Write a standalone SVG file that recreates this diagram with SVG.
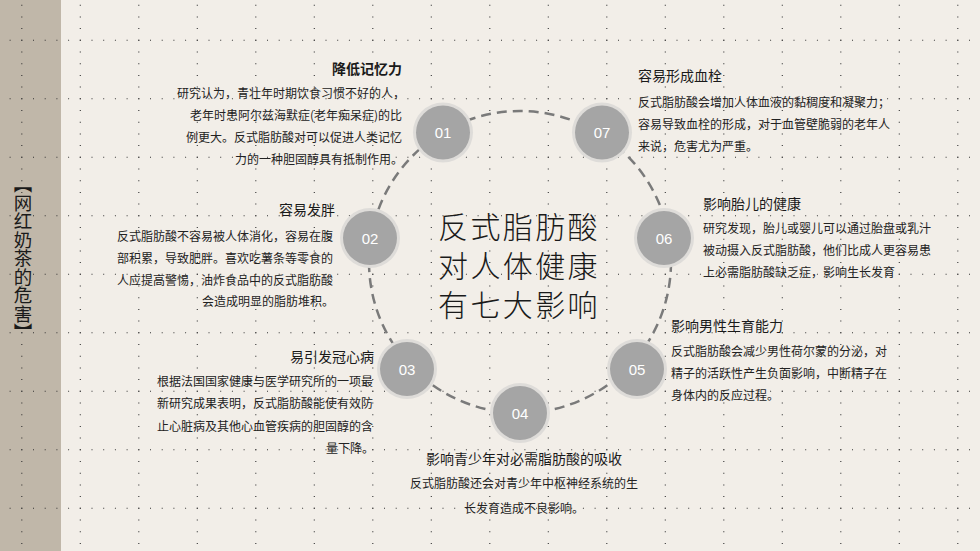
<svg xmlns="http://www.w3.org/2000/svg" width="980" height="551" viewBox="0 0 980 551">
<style>
.dots{fill:none;stroke:#333;stroke-width:1.1;stroke-dasharray:1 10.7}
.t{font-family:"Noto Sans CJK SC","Liberation Sans",sans-serif;fill:#1a1a1a}
.ti{font-size:14px}
.b{font-size:12px;fill:#222}
.num{font-family:"Liberation Sans","Noto Sans",sans-serif;font-size:15px;fill:#fff;text-anchor:middle}
.ring{fill:#dedcd9}
.core{fill:#a5a5a5}
</style>
<rect x="0" y="0" width="980" height="551" fill="#f2eee8"/>
<rect x="0" y="0" width="61" height="551" fill="#c0b7a9"/>
<g id="grid">
<path class="dots" d="M9.6 40.3H980M9.6 98.8H980M9.6 157.3H980M9.6 215.8H980M9.6 274.3H980M9.6 332.8H980M9.6 391.3H980M9.6 449.8H980M9.6 508.3H980"/>
<path class="dots" d="M21.8 4.7V551M80.3 4.7V551M138.8 4.7V551M197.3 4.7V551M255.8 4.7V551M314.3 4.7V551M372.8 4.7V551M431.3 4.7V551M489.8 4.7V551M548.3 4.7V551M606.8 4.7V551M665.3 4.7V551M723.8 4.7V551M782.3 4.7V551M840.8 4.7V551M899.3 4.7V551M957.8 4.7V551"/>
</g>
<g id="sidebar-title">
<text class="t" x="23" y="258" font-size="18.5" style="writing-mode:vertical-rl" text-anchor="middle" fill="#111">【网红奶茶的危害】</text>
</g>
<g id="connectors">
<circle cx="520" cy="262" r="151" fill="none" stroke="#7a7a7a" stroke-width="2.5" stroke-dasharray="10 6"/>
</g>
<g id="center-title">
<text class="t" font-size="30" font-weight="300" fill="#2a2a2a" letter-spacing="2.4"><tspan x="438" y="238">反式脂肪酸</tspan><tspan x="438" y="277">对人体健康</tspan><tspan x="438" y="316">有七大影响</tspan></text>
</g>
<g id="node01">
<circle class="ring" cx="443" cy="132.5" r="30"/><circle class="core" cx="443" cy="132.5" r="27"/>
<text class="num" x="443" y="138">01</text>
<text class="t ti" x="402" y="73.5" text-anchor="end" font-weight="bold">降低记忆力</text>
<text class="t b"><tspan x="177" y="97.5">研究认为，青壮年时期饮食习惯不好的人，</tspan><tspan x="402" y="120" text-anchor="end">老年时患阿尔兹海默症(老年痴呆症)的比</tspan><tspan x="402" y="142" text-anchor="end">例更大。反式脂肪酸对可以促进人类记忆</tspan><tspan x="403" y="164" text-anchor="end">力的一种胆固醇具有抵制作用。</tspan></text>
</g>
<g id="node02">
<circle class="ring" cx="370" cy="238" r="30"/><circle class="core" cx="370" cy="238" r="27"/>
<text class="num" x="370" y="243.5">02</text>
<text class="t ti" x="335" y="215.3" text-anchor="end">容易发胖</text>
<text class="t b"><tspan x="117" y="241">反式脂肪酸不容易被人体消化，容易在腹</tspan><tspan x="117" y="262.5">部积累，导致肥胖。喜欢吃薯条等零食的</tspan><tspan x="117" y="284.5">人应提高警惕，油炸食品中的反式脂肪酸</tspan><tspan x="334" y="306" text-anchor="end">会造成明显的脂肪堆积。</tspan></text>
</g>
<g id="node03">
<circle class="ring" cx="407" cy="369" r="30"/><circle class="core" cx="407" cy="369" r="27"/>
<text class="num" x="407" y="374.5">03</text>
<text class="t ti" x="374" y="362" text-anchor="end">易引发冠心病</text>
<text class="t b"><tspan x="157" y="386">根据法国国家健康与医学研究所的一项最</tspan><tspan x="157" y="408">新研究成果表明，反式脂肪酸能使有效防</tspan><tspan x="157" y="430.5">止心脏病及其他心血管疾病的胆固醇的含</tspan><tspan x="374" y="452.5" text-anchor="end">量下降。</tspan></text>
</g>
<g id="node04">
<circle class="ring" cx="520" cy="413" r="30"/><circle class="core" cx="520" cy="413" r="27"/>
<text class="num" x="520" y="418.5">04</text>
<text class="t ti" x="524" y="463.6" text-anchor="middle">影响青少年对必需脂肪酸的吸收</text>
<text class="t b" text-anchor="middle"><tspan x="524" y="488">反式脂肪酸还会对青少年中枢神经系统的生</tspan><tspan x="524" y="513">长发育造成不良影响。</tspan></text>
</g>
<g id="node05">
<circle class="ring" cx="637" cy="369" r="30"/><circle class="core" cx="637" cy="369" r="27"/>
<text class="num" x="637" y="374.5">05</text>
<text class="t ti" x="671" y="331">影响男性生育能力</text>
<text class="t b"><tspan x="671" y="356">反式脂肪酸会减少男性荷尔蒙的分泌，对</tspan><tspan x="671" y="378">精子的活跃性产生负面影响，中断精子在</tspan><tspan x="671" y="399.5">身体内的反应过程。</tspan></text>
</g>
<g id="node06">
<circle class="ring" cx="664" cy="238" r="30"/><circle class="core" cx="664" cy="238" r="27"/>
<text class="num" x="664" y="243.5">06</text>
<text class="t ti" x="703" y="208.6">影响胎儿的健康</text>
<text class="t b"><tspan x="703" y="233">研究发现，胎儿或婴儿可以通过胎盘或乳汁</tspan><tspan x="703" y="254.5">被动摄入反式脂肪酸，他们比成人更容易患</tspan><tspan x="703" y="277">上必需脂肪酸缺乏症，影响生长发育</tspan></text>
</g>
<g id="node07">
<circle class="ring" cx="602" cy="132.5" r="30"/><circle class="core" cx="602" cy="132.5" r="27"/>
<text class="num" x="602" y="138">07</text>
<text class="t ti" x="638" y="81">容易形成血栓</text>
<text class="t b"><tspan x="638" y="107">反式脂肪酸会增加人体血液的黏稠度和凝聚力；</tspan><tspan x="638" y="128.5">容易导致血栓的形成，对于血管壁脆弱的老年人</tspan><tspan x="638" y="150.5">来说，危害尤为严重。</tspan></text>
</g>
</svg>
